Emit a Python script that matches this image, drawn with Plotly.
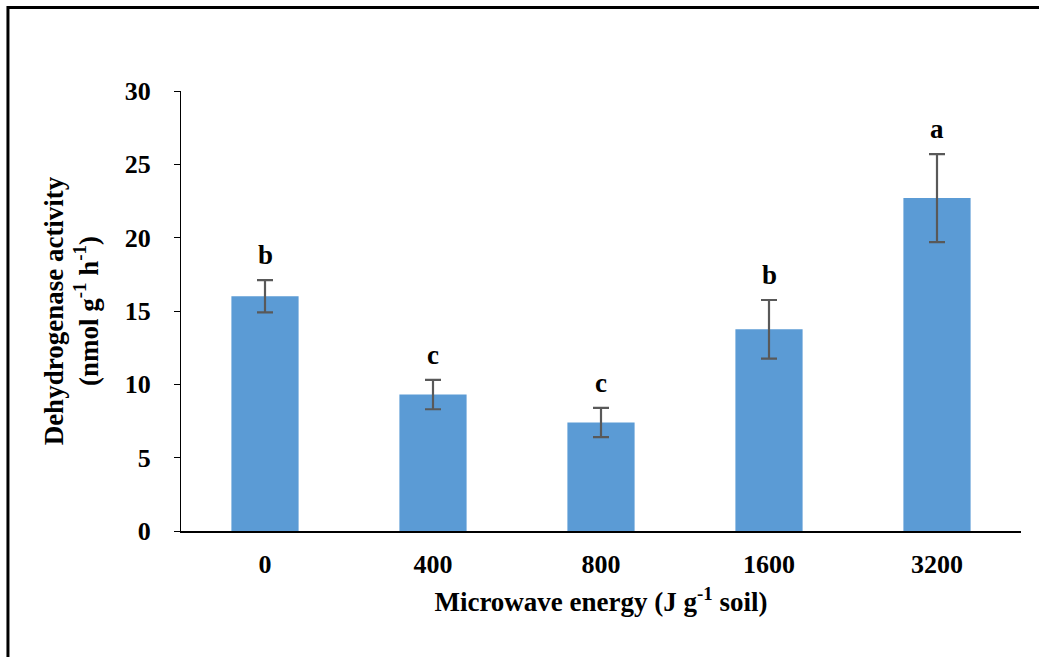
import plotly.graph_objects as go

# Dehydrogenase activity after microwave treatment
energy = ["0", "400", "800", "1600", "3200"]
activity = [16.0, 9.3, 7.4, 13.75, 22.7]
std_err = [1.1, 1.0, 1.0, 2.0, 3.0]
groups = ["b", "c", "c", "b", "a"]

font_family = "Liberation Serif, Times New Roman, serif"

fig = go.Figure()
fig.add_trace(go.Bar(
    x=energy,
    y=activity,
    marker=dict(color="#5B9BD5", line=dict(width=0)),
    error_y=dict(type="data", array=std_err, visible=True,
                 color="#595959", thickness=2.2, width=8),
    width=0.4,
))

# significance letters above the error bars (x given as category index)
for i, (val, err, g) in enumerate(zip(activity, std_err, groups)):
    fig.add_annotation(
        x=i, y=val + err, text=f"<b>{g}</b>", showarrow=False,
        yanchor="bottom", yshift=8,
        font=dict(family=font_family, size=27, color="black"),
    )

# outer frame around the figure
fig.add_shape(type="rect", xref="paper", yref="paper",
              x0=-0.206, x1=1.03, y0=-0.30, y1=1.19,
              line=dict(color="black", width=3), layer="below")

fig.update_layout(
    width=1039, height=657,
    margin=dict(l=181, r=18, t=91, b=126),
    paper_bgcolor="white", plot_bgcolor="white",
    showlegend=False,
    font=dict(family=font_family, color="black"),
    xaxis=dict(
        type="category", range=[-0.5, 4.5],
        title=dict(text="<b>Microwave energy (J g<sup>-1</sup> soil)</b>",
                   font=dict(size=27), standoff=14),
        showline=True, linecolor="black", linewidth=2,
        ticks="", tickfont=dict(size=26),
        ticklabelstandoff=9,
        tickprefix="<b>", ticksuffix="</b>",
    ),
    yaxis=dict(
        title=dict(text="<b>Dehydrogenase activity<br>(nmol g<sup>-1</sup> h<sup>-1</sup>)</b>",
                   font=dict(size=27), standoff=18),
        range=[0, 30], dtick=5,
        showline=True, linecolor="black", linewidth=1,
        ticks="outside", ticklen=6, tickcolor="black", tickwidth=1,
        showgrid=False, zeroline=False,
        tickfont=dict(size=26),
        tickprefix="<b>", ticksuffix="</b>",
        ticklabelstandoff=18,
    ),
)

fig.write_html("out.html")
